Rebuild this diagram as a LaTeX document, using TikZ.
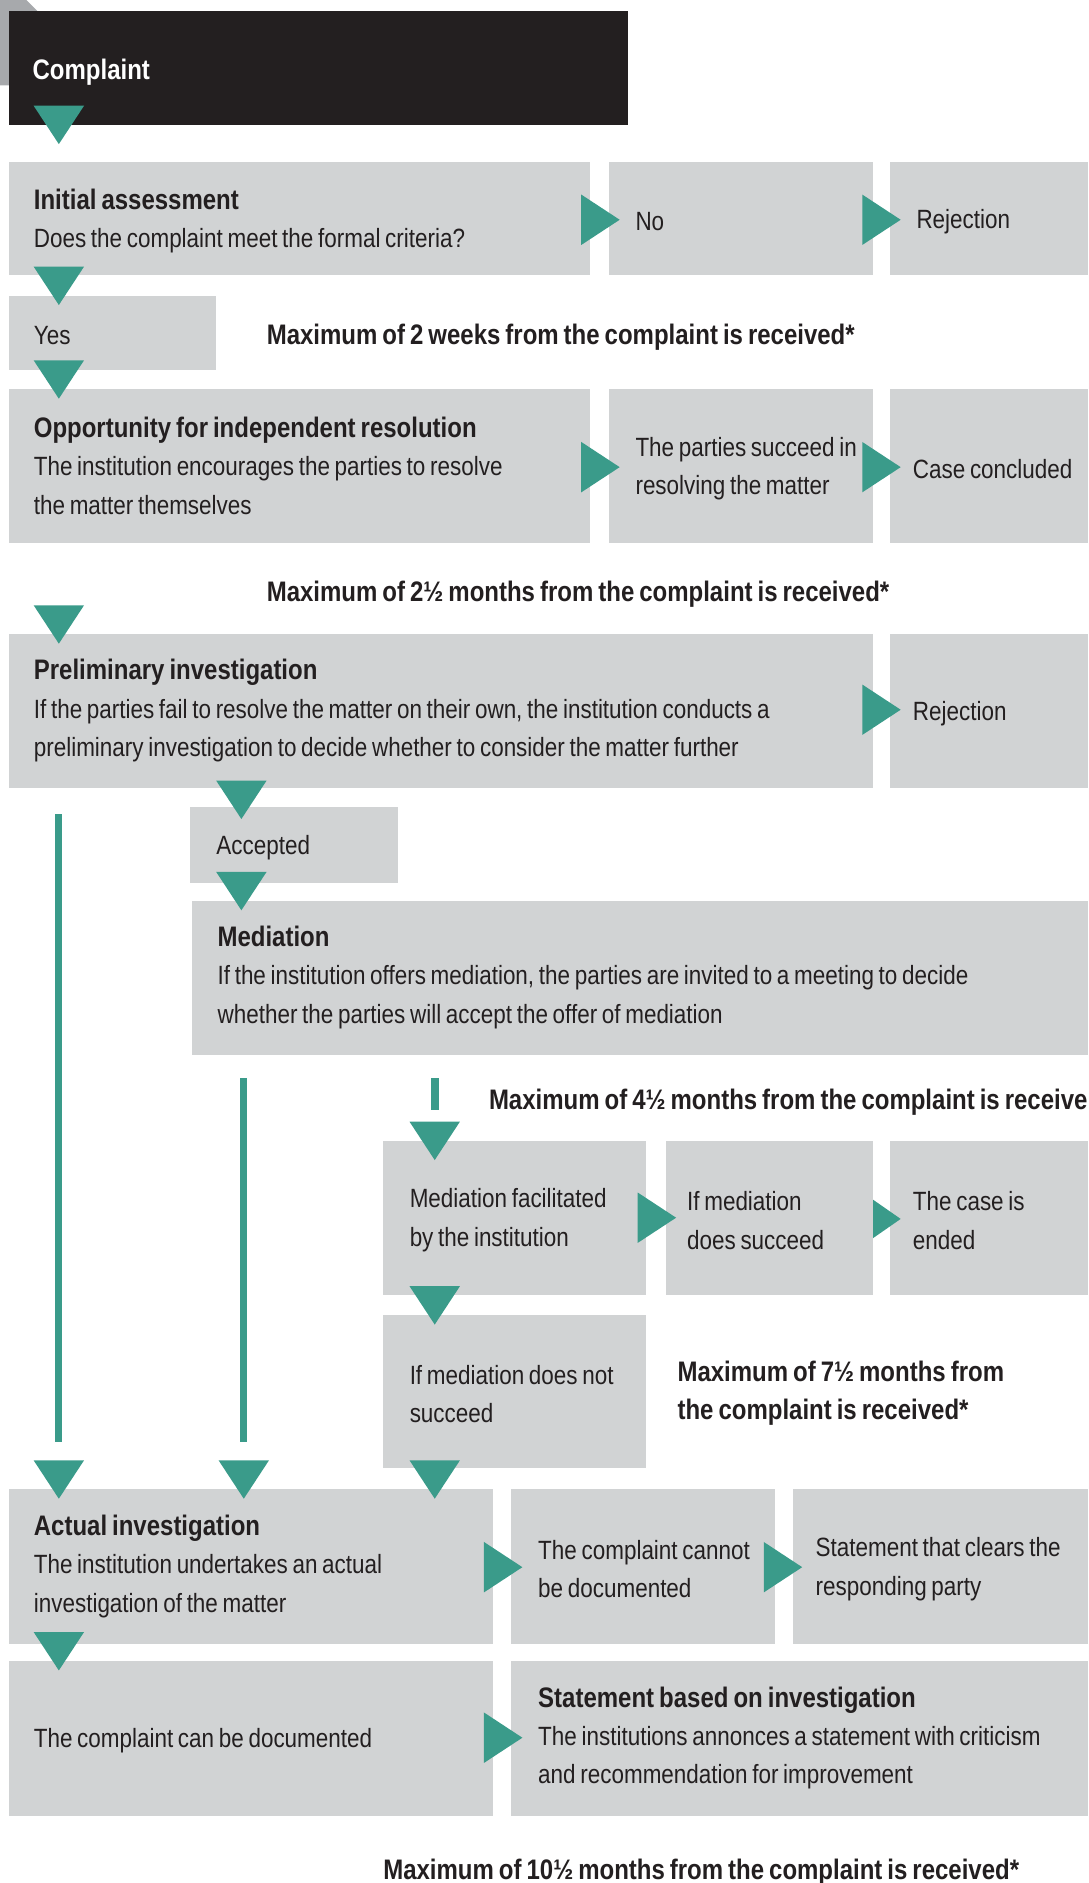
\documentclass[tikz,border=0pt]{standalone}
\usepackage{fontspec}
\setmainfont[FakeStretch=0.85,WordSpace=0.75]{Liberation Sans}
\definecolor{boxgray}{HTML}{D1D3D4}
\definecolor{darkbox}{HTML}{231F20}
\definecolor{tealc}{HTML}{3A9B8A}
\definecolor{cornergray}{HTML}{A7A9AC}
\definecolor{txt}{HTML}{231F20}
\newcommand\hd[1]{{\bfseries\fontsize{23.5}{32}\selectfont #1}}
\newcommand\dtri[2]{\fill[tealc] (#1-21,#2) -- (#1+21,#2) -- (#1,#2+32) -- cycle;}
\newcommand\rtri[2]{\fill[tealc] (#1,#2-21) -- (#1+32,#2) -- (#1,#2+21) -- cycle;}
\tikzset{
  box/.style={fill=boxgray, draw=none, anchor=north west, inner sep=0pt},
  lbl/.style={anchor=west, inner sep=0pt, align=left, text=txt, yshift=-2pt, font=\fontsize{22}{32}\selectfont},
  lblthree/.style={anchor=west, inner sep=0pt, align=left, text=txt, yshift=0.5pt, font=\fontsize{22}{32}\selectfont},
  freetext/.style={anchor=west, inner sep=0pt, align=left, text=txt, yshift=-2pt,
    font=\bfseries\fontsize{23.5}{32}\selectfont},
  vline/.style={draw=tealc, line width=6pt}
}
\begin{document}
\begin{tikzpicture}[x=1pt,y=-1pt]
\useasboundingbox (0,0) rectangle (906,1568);
\begin{scope}
\clip (0,0) rectangle (906,1568);
% corner
\fill[cornergray] (0,0) -- (22,0) -- (32,10) -- (32,71) -- (0,71) -- cycle;
% black header
\node[fill=darkbox, anchor=north west, minimum width=516pt, minimum height=95pt, inner sep=0pt] (complaint) at (7,9) {};
\node[anchor=west, inner sep=0pt, text=white, yshift=-2pt, font=\bfseries\fontsize{23.5}{32}\selectfont] (complainttxt) at (27,58) {Complaint};

% row 1
\node[box, minimum width=484pt, minimum height=94pt] (init) at (7,135) {};
\node[lbl] (initT) at ([xshift=21pt]init.west) {\hd{Initial assessment}\\Does the complaint meet the formal criteria?};
\node[box, minimum width=220pt, minimum height=94pt] (no) at (507,135) {};
\node[lbl] (noT) at ([xshift=22pt]no.west) {No};
\node[box, minimum width=165pt, minimum height=94pt] (rej1) at (741,135) {};
\node[lbl] (rej1T) at ([xshift=22pt]rej1.west) {Rejection};
\node[box, minimum width=173pt, minimum height=62pt] (yes) at (7,246) {};
\node[lbl] (yesT) at ([xshift=21pt]yes.west) {Yes};
\node[freetext] (t1) at (222,279) {Maximum of 2 weeks from the complaint is received*};

% row 2
\node[box, minimum width=484pt, minimum height=128pt] (opp) at (7,324) {};
\node[lblthree] (oppT) at ([xshift=21pt]opp.west) {\hd{Opportunity for independent resolution}\\The institution encourages the parties to resolve\\the matter themselves};
\node[box, minimum width=220pt, minimum height=128pt] (parties) at (507,324) {};
\node[lbl] (partiesT) at ([xshift=22pt]parties.west) {The parties succeed in\\resolving the matter};
\node[box, minimum width=165pt, minimum height=128pt] (concl) at (741,324) {};
\node[lbl] (conclT) at ([xshift=19pt]concl.west) {Case concluded};
\node[freetext] (t2) at (222,493) {Maximum of 2½ months from the complaint is received*};

% row 3
\node[box, minimum width=720pt, minimum height=128pt] (prelim) at (7,528) {};
\node[lblthree] (prelimT) at ([xshift=21pt]prelim.west) {\hd{Preliminary investigation}\\If the parties fail to resolve the matter on their own, the institution conducts a\\preliminary investigation to decide whether to consider the matter further};
\node[box, minimum width=165pt, minimum height=128pt] (rej2) at (741,528) {};
\node[lbl] (rej2T) at ([xshift=19pt]rej2.west) {Rejection};
\node[box, minimum width=173pt, minimum height=63pt] (acc) at (158,672) {};
\node[lbl] (accT) at ([xshift=22pt]acc.west) {Accepted};
\node[box, minimum width=746pt, minimum height=128pt] (med) at (160,750) {};
\node[lblthree] (medT) at ([xshift=21pt]med.west) {\hd{Mediation}\\If the institution offers mediation, the parties are invited to a meeting to decide\\whether the parties will accept the offer of mediation};
\node[freetext] (t3) at (407,916) {Maximum of 4½ months from the complaint is receive};

% mediation row
\node[box, minimum width=219pt, minimum height=128pt] (medfac) at (319,950) {};
\node[lbl] (medfacT) at ([xshift=22pt]medfac.west) {Mediation facilitated\\by the institution};
\node[box, minimum width=173pt, minimum height=128pt] (medsuc) at (554,950) {};
\node[lbl] (medsucT) at ([xshift=18pt]medsuc.west) {If mediation\\does succeed};
\node[box, minimum width=165pt, minimum height=128pt] (ended) at (741,950) {};
\node[lbl] (endedT) at ([xshift=19pt]ended.west) {The case is\\ended};
\node[box, minimum width=219pt, minimum height=127pt] (mednot) at (319,1095) {};
\node[lbl] (mednotT) at ([xshift=22pt]mednot.west) {If mediation does not\\succeed};
\node[freetext] (t4) at (564,1158) {Maximum of 7½ months from\\the complaint is received*};

% investigation rows
\node[box, minimum width=403pt, minimum height=129pt] (actual) at (7,1240) {};
\node[lblthree] (actualT) at ([xshift=21pt]actual.west) {\hd{Actual investigation}\\The institution undertakes an actual\\investigation of the matter};
\node[box, minimum width=220pt, minimum height=129pt] (cannot) at (425,1240) {};
\node[lbl] (cannotT) at ([xshift=23pt]cannot.west) {The complaint cannot\\be documented};
\node[box, minimum width=246pt, minimum height=129pt] (clears) at (660,1240) {};
\node[lbl] (clearsT) at ([xshift=19pt]clears.west) {Statement that clears the\\responding party};
\node[box, minimum width=403pt, minimum height=129pt] (can) at (7,1383) {};
\node[lbl] (canT) at ([xshift=21pt]can.west) {The complaint can be documented};
\node[box, minimum width=481pt, minimum height=129pt] (stmt) at (425,1383) {};
\node[lblthree] (stmtT) at ([xshift=23pt]stmt.west) {\hd{Statement based on investigation}\\The institutions annonces a statement with criticism\\and recommendation for improvement};
\node[freetext] (t5) at (319,1557) {Maximum of 10½ months from the complaint is received*};

% vertical connector lines
\coordinate (l1a) at (49,678);  \coordinate (l1b) at (49,1201);
\coordinate (l2a) at (203,898); \coordinate (l2b) at (203,1201);
\coordinate (l3a) at (362,898); \coordinate (l3b) at (362,924);
\draw[vline] (l1a) -- (l1b);
\draw[vline] (l2a) -- (l2b);
\draw[vline, line width=7pt] (l3a) -- (l3b);

% down triangles
\dtri{49}{88}
\dtri{49}{222}
\dtri{49}{300}
\dtri{49}{504}
\dtri{201}{650}
\dtri{201}{726}
\dtri{362}{934}
\dtri{362}{1071}
\dtri{49}{1216}
\dtri{203}{1216}
\dtri{362}{1216}
\dtri{49}{1359}

% right triangles
\rtri{484}{183}
\rtri{718}{183}
\rtri{484}{389}
\rtri{718}{389}
\rtri{718}{591}
\rtri{531}{1014}
\fill[tealc] (727,999) -- (750,1015) -- (727,1031) -- cycle;
\rtri{403}{1305}
\rtri{636}{1305}
\rtri{403}{1447}
\end{scope}
\end{tikzpicture}
\end{document}
